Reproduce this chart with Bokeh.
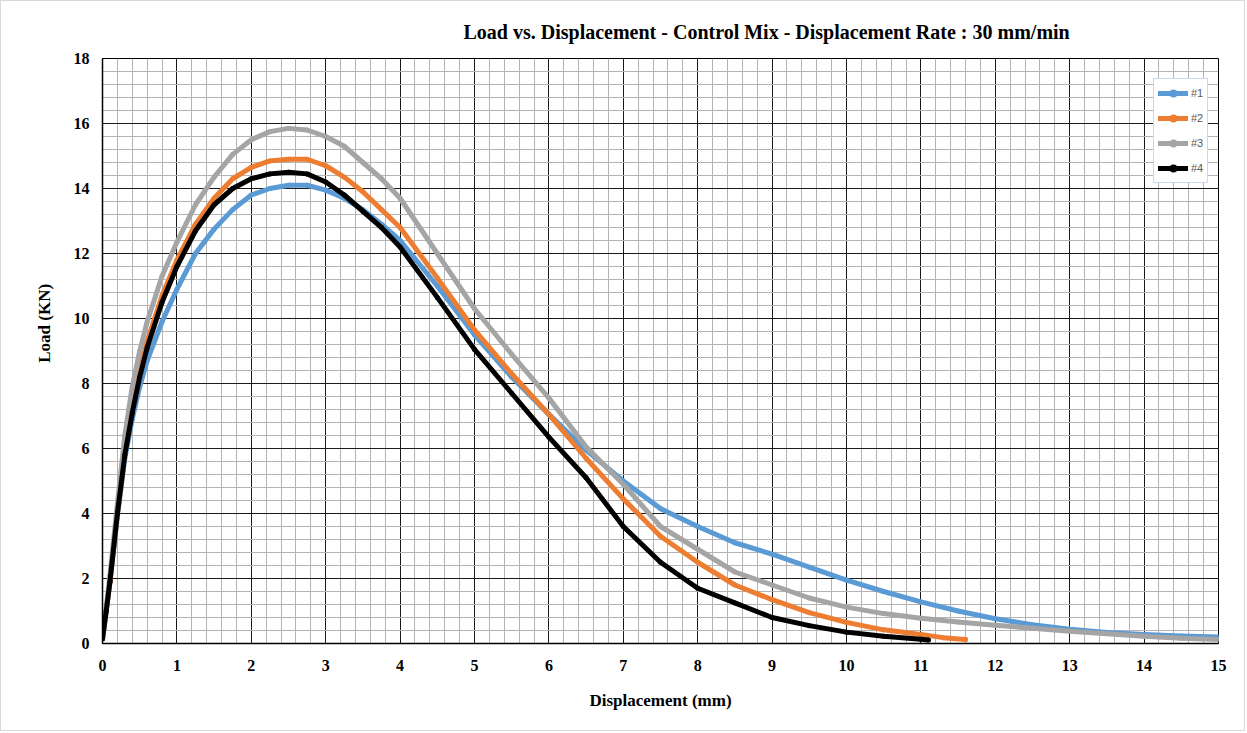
from bokeh.plotting import figure
from bokeh.models import (Range1d, SingleIntervalTicker, Legend, LegendItem,
                          ColumnDataSource)
from bokeh.embed import file_html
from bokeh.resources import INLINE

# ---------------- data ----------------
x1 = [0, 0.05, 0.1, 0.2, 0.3, 0.4, 0.5, 0.6, 0.8, 1.0, 1.25, 1.5, 1.75, 2.0, 2.25, 2.5, 2.75,
      3.0, 3.25, 3.5, 3.75, 4.0, 4.5, 5.0, 5.5, 6.0, 6.5, 7.0, 7.5, 8.0, 8.5, 9.0, 9.5, 10,
      10.5, 11, 11.5, 12, 12.5, 13, 13.5, 14, 14.5, 15]
y1 = [0.15, 1.0, 1.9, 3.9, 5.7, 6.9, 7.9, 8.7, 9.9, 10.9, 12.0, 12.75, 13.35, 13.8, 14.0, 14.1,
      14.1, 13.95, 13.7, 13.35, 12.9, 12.4, 11.0, 9.5, 8.2, 7.05, 5.95, 5.0, 4.15, 3.6, 3.1,
      2.75, 2.35, 1.95, 1.6, 1.28, 1.0, 0.76, 0.58, 0.44, 0.34, 0.28, 0.23, 0.2]

x2 = [0, 0.05, 0.1, 0.2, 0.3, 0.4, 0.5, 0.6, 0.8, 1.0, 1.25, 1.5, 1.75, 2.0, 2.25, 2.5, 2.75,
      3.0, 3.25, 3.5, 3.75, 4.0, 4.5, 5.0, 5.5, 6.0, 6.5, 7.0, 7.5, 8.0, 8.5, 9.0, 9.5, 10,
      10.5, 11, 11.3, 11.6]
y2 = [0.15, 1.0, 1.9, 4.0, 5.9, 7.3, 8.4, 9.3, 10.7, 11.8, 12.9, 13.7, 14.3, 14.65, 14.85,
      14.9, 14.9, 14.7, 14.35, 13.9, 13.35, 12.8, 11.25, 9.65, 8.3, 7.05, 5.7, 4.45, 3.3, 2.5,
      1.8, 1.35, 0.95, 0.65, 0.42, 0.28, 0.18, 0.12]

x3 = [0, 0.05, 0.1, 0.2, 0.3, 0.4, 0.5, 0.6, 0.8, 1.0, 1.25, 1.5, 1.75, 2.0, 2.25, 2.5, 2.75,
      3.0, 3.25, 3.5, 3.75, 4.0, 4.5, 5.0, 5.5, 6.0, 6.5, 7.0, 7.5, 8.0, 8.5, 9.0, 9.5, 10,
      10.5, 11, 11.5, 12, 12.5, 13, 13.5, 14, 14.5, 15]
y3 = [0.15, 1.1, 2.1, 4.3, 6.4, 7.9, 9.0, 9.9, 11.3, 12.35, 13.5, 14.35, 15.05, 15.5, 15.75,
      15.85, 15.8, 15.6, 15.3, 14.8, 14.3, 13.7, 12.0, 10.3, 8.9, 7.55, 6.05, 4.9, 3.6, 2.9,
      2.2, 1.8, 1.4, 1.12, 0.92, 0.78, 0.66, 0.56, 0.47, 0.38, 0.3, 0.22, 0.16, 0.12]

x4 = [0, 0.05, 0.1, 0.2, 0.3, 0.4, 0.5, 0.6, 0.8, 1.0, 1.25, 1.5, 1.75, 2.0, 2.25, 2.5, 2.75,
      3.0, 3.25, 3.5, 3.75, 4.0, 4.5, 5.0, 5.5, 6.0, 6.5, 7.0, 7.5, 8.0, 8.5, 9.0, 9.5, 10,
      10.5, 11, 11.1]
y4 = [0.15, 1.0, 1.9, 4.0, 5.8, 7.1, 8.2, 9.1, 10.5, 11.6, 12.7, 13.5, 14.0, 14.3, 14.45,
      14.5, 14.45, 14.2, 13.8, 13.3, 12.8, 12.2, 10.65, 9.05, 7.7, 6.35, 5.1, 3.6, 2.5, 1.7,
      1.25, 0.8, 0.55, 0.35, 0.22, 0.13, 0.11]

series_labels = ["#1", "#2", "#3", "#4"]
series_colors = ["#5b9bd5", "#ed7d31", "#a5a5a5", "#000000"]

title_text = "Load vs. Displacement - Control Mix - Displacement Rate : 30 mm/min"
x_title = "Displacement (mm)"
y_title = "Load (KN)"

# ---------------- figure ----------------
W, H = 1245, 731
p = figure(width=W, height=H, output_backend="svg", toolbar_location=None,
           x_range=Range1d(0, 15), y_range=Range1d(0, 18),
           min_border_left=101, min_border_right=28, min_border_top=57,
           min_border_bottom=89)
p.styles = {"border": "1px solid #d9d9d9"}
p.background_fill_color = "white"
p.border_fill_color = "white"
p.outline_line_color = "black"
p.outline_line_width = 1

p.title.text = title_text
p.title.align = "left"
p.title.offset = 361
p.title.standoff = 32
p.title.text_font = "Liberation Serif"
p.title.text_font_style = "bold"
p.title.text_font_size = "20px"
p.title.text_color = "black"

p.xaxis.ticker = SingleIntervalTicker(interval=1, num_minor_ticks=5)
p.yaxis.ticker = SingleIntervalTicker(interval=2, num_minor_ticks=5)

p.xgrid.ticker = p.xaxis.ticker
p.ygrid.ticker = p.yaxis.ticker
for g in (p.xgrid, p.ygrid):
    g.grid_line_color = "#1a1a1a"
    g.grid_line_width = 1
    g.grid_line_alpha = 1
    g.minor_grid_line_color = "#b4b4b4"
    g.minor_grid_line_width = 1

for ax in (p.xaxis, p.yaxis):
    ax.axis_line_color = "black"
    ax.axis_line_width = 1.5
    ax.major_tick_line_color = None
    ax.minor_tick_line_color = None
    ax.major_label_text_font = "Liberation Serif"
    ax.major_label_text_font_style = "bold"
    ax.major_label_text_font_size = "16px"
    ax.major_label_text_color = "black"
    ax.axis_label_text_font = "Liberation Serif"
    ax.axis_label_text_font_style = "bold"
    ax.axis_label_text_font_size = "17px"
    ax.axis_label_text_color = "black"

p.xaxis.axis_label = x_title
# leading no-break spaces lift the vertical title a little above the frame centre, as in the reference
p.yaxis.axis_label = "\u00a0" * 13 + y_title
p.xaxis.major_label_standoff = 10
p.yaxis.major_label_standoff = 7
p.xaxis.axis_label_standoff = 17
p.yaxis.axis_label_standoff = 17

xs = [x1, x2, x3, x4]
ys = [y1, y2, y3, y4]
items = []
for xv, yv, lab, col in zip(xs, ys, series_labels, series_colors):
    src = ColumnDataSource(dict(x=xv, y=yv))
    lr = p.line("x", "y", source=src, line_color=col, line_width=5,
                line_join="round", line_cap="round")
    mr = p.scatter("x", "y", source=src, marker="circle", size=5,
                   fill_color=col, line_color=col, line_width=0)
    items.append(LegendItem(label=lab, renderers=[lr, mr]))

legend = Legend(items=items, location=(1051, 460))
legend.border_line_color = "#8fb4e3"
legend.border_line_width = 1
legend.background_fill_color = "white"
legend.background_fill_alpha = 1
legend.padding = 4
legend.spacing = 5
legend.glyph_width = 30
legend.glyph_height = 20
legend.label_standoff = 3
legend.label_width = 12
legend.label_text_font = "Liberation Sans"
legend.label_text_font_size = "11px"
legend.label_text_color = "#595959"
legend.margin = 0
p.add_layout(legend)

open("out.html", "w").write(file_html(p, INLINE))
